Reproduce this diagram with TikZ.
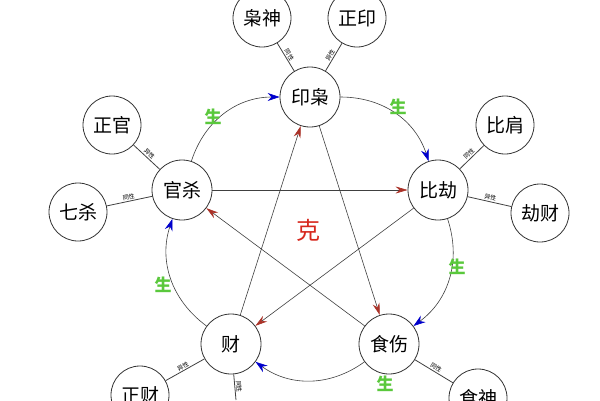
\documentclass[tikz,border=0pt]{standalone}
\usepackage{fontspec}
\setmainfont{Noto Sans CJK SC}
\usetikzlibrary{arrows.meta}
\definecolor{gen}{RGB}{90,200,60}
\definecolor{ke}{RGB}{215,40,30}
\definecolor{kt}{RGB}{170,50,40}
\begin{document}
\begin{tikzpicture}[x=1pt,y=-1pt,
  mc/.style={circle,draw=black!80,thick,fill=white,minimum size=60pt,inner sep=0pt,font=\fontsize{19}{19}\selectfont},
  oc/.style={circle,draw=black!80,thick,fill=white,minimum size=58pt,inner sep=0pt,font=\fontsize{19}{19}\selectfont},
  ln/.style={draw=black!75,thick},
  sm/.style={font=\fontsize{6}{6}\selectfont,sloped,above,inner sep=1pt},
  sheng/.style={-{Stealth[blue!80!black,length=12pt,width=8pt]},draw=black!75,semithick,bend left=36},
  kel/.style={-{Stealth[kt,length=12pt,width=7pt]},draw=black!75,semithick},
  gl/.style={text=gen,font=\fontsize{17}{17}\selectfont\bfseries}]
\useasboundingbox (0,0) rectangle (600,400);
\fill[white] (0,0) rectangle (600,400);
% outer nodes
\node[oc] (xs) at (262,18) {枭神};
\node[oc] (zy) at (357,18) {正印};
\node[oc] (zg) at (112,125) {正官};
\node[oc] (qs) at (78,212) {七杀};
\node[oc] (bj) at (505,125) {比肩};
\node[oc] (jc) at (540,213) {劫财};
\node[oc] (zc) at (140,395) {正财};
\node[oc] (ss) at (478,398) {食神};
\coordinate (cb) at (236,400);
% main nodes
\node[mc] (yx) at (310,97) {印枭};
\node[mc] (bjie) at (438,190) {比劫};
\node[mc] (sh) at (389,344) {食伤};
\node[mc] (cai) at (231,344) {财};
\node[mc] (gs) at (182,190) {官杀};
% spokes
\draw[ln] (yx) -- node[sm]{同性} (xs);
\draw[ln] (yx) -- node[sm]{异性} (zy);
\draw[ln] (zg) -- node[sm]{异性} (gs);
\draw[ln] (qs) -- node[sm]{同性} (gs);
\draw[ln] (bjie) -- node[sm]{同性} (bj);
\draw[ln] (bjie) -- node[sm]{异性} (jc);
\draw[ln] (zc) -- node[sm]{异性} (cai);
\draw[ln] (cai) -- node[sm]{同性} (cb);
\draw[ln] (sh) -- node[sm]{同性} (ss);
% sheng cycle
\draw[sheng] (gs) to (yx);
\draw[sheng] (yx) to (bjie);
\draw[sheng] (bjie) to (sh);
\draw[sheng] (sh) to (cai);
\draw[sheng] (cai) to (gs);
% ke star
\draw[kel] (yx) -- (sh);
\draw[kel] (sh) -- (gs);
\draw[kel] (gs) -- (bjie);
\draw[kel] (bjie) -- (cai);
\draw[kel] (cai) -- (yx);
% labels
\node[gl] (g1) at (213,117) {生};
\node[gl] (g2) at (398,107) {生};
\node[gl] (g3) at (457,267) {生};
\node[gl] (g4) at (385,384) {生};
\node[gl] (g5) at (163,285) {生};
\node[text=ke,font=\fontsize{24}{24}\selectfont] (k) at (308,230) {克};
\end{tikzpicture}
\end{document}
